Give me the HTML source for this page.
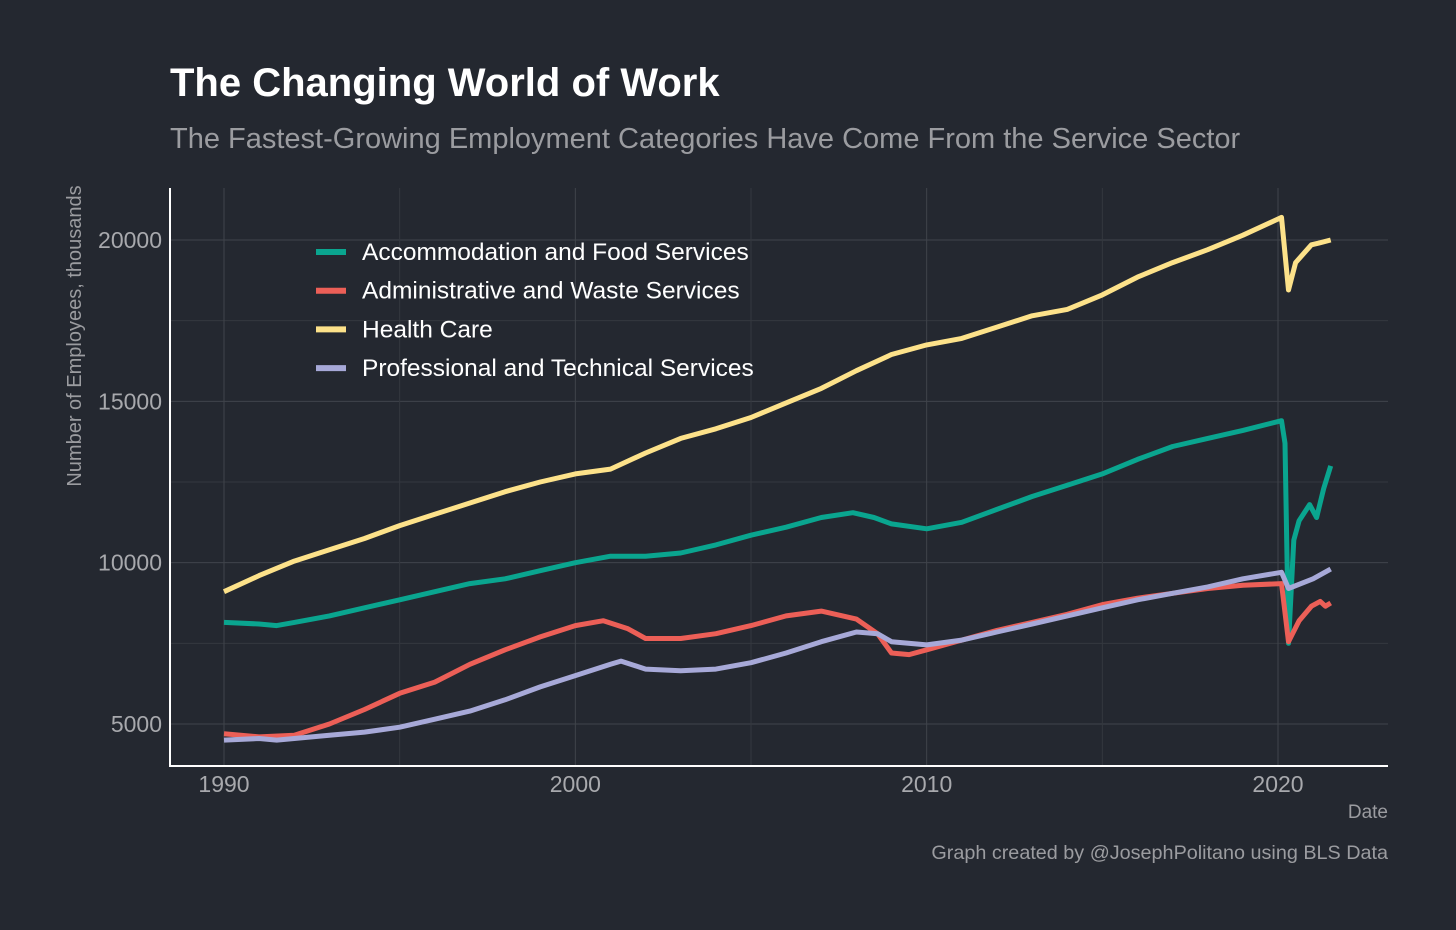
<!DOCTYPE html>
<html><head><meta charset="utf-8"><style>
html,body{margin:0;padding:0;background:#242830;}
svg{display:block;font-family:"Liberation Sans",sans-serif;}
</style></head><body>
<svg id="chart" width="1456" height="930">
<rect width="1456" height="930" fill="#242830"/>
<text x="170" y="96" fill="#ffffff" font-size="40" font-weight="bold">The Changing World of Work</text>
<text x="170" y="148" fill="#9b9ca0" font-size="29">The Fastest-Growing Employment Categories Have Come From the Service Sector</text>
<g id="grid"></g>
<g id="series"></g>
<line x1="170" y1="188" x2="170" y2="766" stroke="#ffffff" stroke-width="2"/>
<line x1="169" y1="766" x2="1388" y2="766" stroke="#ffffff" stroke-width="2"/>
<g id="ticks"></g>
<text transform="translate(81,336) rotate(-90)" text-anchor="middle" fill="#9b9ca0" font-size="20">Number of Employees, thousands</text>
<text x="1388" y="818" text-anchor="end" fill="#9b9ca0" font-size="19">Date</text>
<text x="1388" y="859" text-anchor="end" fill="#9b9ca0" font-size="19.8">Graph created by @JosephPolitano using BLS Data</text>
<g id="legend"></g>
</svg>
<script>
const yTicks=[5000,10000,15000,20000];
const xTicks=[1990,2000,2010,2020];
const seriesNames=["Accommodation and Food Services","Administrative and Waste Services","Health Care","Professional and Technical Services"];
const seriesColors=["#0aa58f","#ec5f57","#fde28a","#a7a9d8"];
const foodX=[1990,1991,1991.5,1992,1993,1994,1995,1996,1997,1998,1999,2000,2001,2002,2003,2004,2005,2006,2007,2007.9,2008.5,2009,2010,2011,2012,2013,2014,2015,2016,2017,2018,2019,2020.1,2020.2,2020.3,2020.45,2020.6,2020.9,2021.1,2021.3,2021.5];
const foodY=[8150,8100,8050,8150,8350,8600,8850,9100,9350,9500,9750,10000,10200,10200,10300,10550,10850,11100,11400,11550,11400,11200,11050,11250,11650,12050,12400,12750,13200,13600,13850,14100,14400,13700,7500,10700,11300,11800,11400,12300,13000];
const adminX=[1990,1991,1992,1993,1994,1995,1996,1997,1998,1999,2000,2000.8,2001.5,2002,2003,2004,2005,2006,2007,2008,2008.6,2009,2009.5,2010,2011,2012,2013,2014,2015,2016,2017,2018,2019,2020.1,2020.3,2020.6,2020.95,2021.2,2021.35,2021.5];
const adminY=[4700,4600,4650,5000,5450,5950,6300,6850,7300,7700,8050,8200,7950,7650,7650,7800,8050,8350,8500,8250,7800,7200,7150,7300,7600,7900,8150,8400,8700,8900,9050,9200,9300,9350,7550,8200,8650,8800,8650,8750];
const healthX=[1990,1991,1992,1993,1994,1995,1996,1997,1998,1999,2000,2001,2002,2003,2004,2005,2006,2007,2008,2009,2010,2011,2012,2013,2014,2015,2016,2017,2018,2019,2020.1,2020.3,2020.5,2020.95,2021.15,2021.5];
const healthY=[9100,9600,10050,10400,10750,11150,11500,11850,12200,12500,12750,12900,13400,13850,14150,14500,14950,15400,15950,16450,16750,16950,17300,17650,17850,18300,18850,19300,19700,20150,20700,18450,19300,19850,19900,20000];
const profX=[1990,1991,1991.5,1992,1993,1994,1995,1996,1997,1998,1999,2000,2001,2001.3,2002,2003,2004,2005,2006,2007,2008,2008.6,2009,2010,2011,2012,2013,2014,2015,2016,2017,2018,2019,2020.1,2020.3,2021,2021.5];
const profY=[4500,4550,4500,4550,4650,4750,4900,5150,5400,5750,6150,6500,6850,6950,6700,6650,6700,6900,7200,7550,7850,7800,7550,7450,7600,7850,8100,8350,8600,8850,9050,9250,9500,9700,9200,9500,9800];

const NS="http://www.w3.org/2000/svg";
const xS=v=>224+(v-1990)*(1278-224)/30;
const yS=v=>724-(v-5000)*(724-240)/15000;
function mk(t,a,p){const e=document.createElementNS(NS,t);for(const k in a)e.setAttribute(k,a[k]);p.appendChild(e);return e;}
const grid=document.getElementById('grid'),ticks=document.getElementById('ticks');
for(let v=5000;v<=20000;v+=2500){
  const l=mk('line',{x1:170,x2:1388,y1:yS(v),y2:yS(v),stroke:v%5000?'#34383f':'#40444b','stroke-width':1},grid);
  
  
}
for(let v=1990;v<=2020;v+=5){
  const l=mk('line',{x1:xS(v),x2:xS(v),y1:188,y2:765,stroke:v%10?'#34383f':'#40444b','stroke-width':1},grid);
  
  
}
yTicks.forEach(v=>{const t=mk('text',{x:162,y:yS(v)+8,'text-anchor':'end',fill:'#a8a9ad','font-size':23},ticks);t.textContent=v;
  
  });
xTicks.forEach(v=>{const t=mk('text',{x:xS(v),y:792,'text-anchor':'middle',fill:'#a8a9ad','font-size':23},ticks);t.textContent=v;
  
  });
const allX=[foodX,adminX,healthX,profX],allY=[foodY,adminY,healthY,profY];
const sg=document.getElementById('series');
[0,1,3,2].forEach(i=>{
  const d=allX[i].map((x,j)=>(j?'L':'M')+xS(x).toFixed(1)+','+yS(allY[i][j]).toFixed(1)).join('');
  const p=mk('path',{d:d,fill:'none',stroke:seriesColors[i],'stroke-width':5,'stroke-linejoin':'round'},sg);
  
  
});
const lg=document.getElementById('legend');
seriesNames.forEach((n,i)=>{
  const y=252+i*38.7;
  const l=mk('line',{x1:316,x2:346,y1:y,y2:y,stroke:seriesColors[i],'stroke-width':6},lg);
  
  
  const t=mk('text',{x:362,y:y+8,fill:'#ffffff','font-size':24.5},lg);t.textContent=n;
  
  
});
</script>
</body></html>
